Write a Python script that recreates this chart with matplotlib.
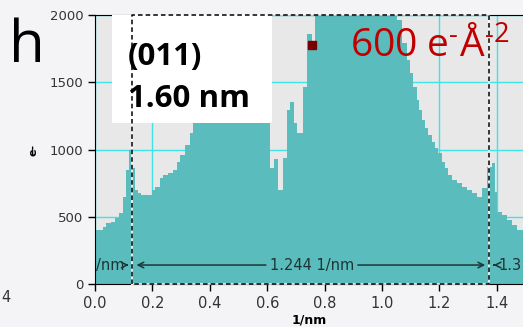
import matplotlib
matplotlib.use("Agg")
import matplotlib.pyplot as plt
from matplotlib.patches import Rectangle

plt.rcParams["mathtext.fontset"] = "custom"
plt.rcParams["mathtext.rm"] = "Open Sans"
plt.rcParams["mathtext.default"] = "regular"

# ── Data ─────────────────────────────────────────────────────────────────────
# intensity profile (left bin edges + counts), last edge closes the range
bin_edges = [0.000, 0.029, 0.040, 0.055, 0.070, 0.085, 0.099, 0.108, 0.118, 0.128,
             0.140, 0.150, 0.160, 0.198, 0.210, 0.226, 0.238, 0.255, 0.273, 0.285,
             0.296, 0.314, 0.331, 0.343, 0.355, 0.370, 0.385, 0.400, 0.420, 0.440,
             0.460, 0.480, 0.500, 0.520, 0.540, 0.560, 0.580, 0.595, 0.610, 0.625,
             0.636, 0.654, 0.669, 0.681, 0.694, 0.704, 0.724, 0.739, 0.756, 0.768,
             1.051, 1.068, 1.086, 1.098, 1.107, 1.121, 1.130, 1.138, 1.150, 1.161,
             1.173, 1.184, 1.196, 1.208, 1.219, 1.231, 1.243, 1.260, 1.277, 1.295,
             1.313, 1.330, 1.347, 1.365, 1.382, 1.393, 1.402, 1.417, 1.434, 1.452,
             1.469, 1.491]
counts = [400, 424, 453, 461, 490, 528, 647, 848, 996, 862,
          699, 676, 662, 699, 721, 788, 810, 825, 848, 907,
          959, 1033, 1123, 1197, 1250, 1300, 1340, 1380, 1410, 1430,
          1440, 1440, 1430, 1410, 1390, 1360, 1330, 1290, 860, 929,
          699, 936, 1294, 1356, 1195, 1120, 1467, 1859, 1770, 2150,
          1963, 1792, 1665, 1569, 1467, 1368, 1294, 1219, 1158, 1108,
          1058, 1009, 972, 909, 860, 810, 773, 749, 723, 699,
          674, 649, 711, 872, 897, 686, 537, 513, 476, 439,
          401]

x_ticks = [0.0, 0.2, 0.4, 0.6, 0.8, 1.0, 1.2, 1.4]
y_ticks = [0, 500, 1000, 1500, 2000]

# measurement window (1/nm) and its label
meas_left, meas_right = 0.130, 1.374
meas_label = "1.244 1/nm"
marker_pt = (0.756, 1777)

TEAL = "#5abcbc"
CYAN = "#3fe3e3"
INK = "#1d3535"

fig = plt.figure(figsize=(5.23, 3.27), dpi=100, facecolor="#f4f4f6")
ax = fig.add_axes([0.1816, 0.1315, 0.8184, 0.8226], facecolor="#e8e8e8")

ax.stairs(counts, bin_edges, fill=True, color=TEAL, zorder=2)

ax.set_xlim(0, 1.491)
ax.set_ylim(0, 2000)
ax.set_xticks(x_ticks)
ax.set_xticklabels([f"{v:.1f}" for v in x_ticks])
ax.set_yticks(y_ticks)
ax.set_axisbelow(True)
ax.grid(True, color=CYAN, lw=1.0)
ax.tick_params(axis="x", length=5, width=1, labelsize=10.5, labelcolor="#333333")
ax.tick_params(axis="y", length=5, width=1, labelsize=9.5, labelcolor="#333333")
ax.spines["right"].set_visible(False)
ax.spines["top"].set_linewidth(0.8)
ax.set_xlabel("1/nm", fontsize=9, fontweight="bold", labelpad=2)
ax.set_ylabel("e-", fontsize=8, fontweight="bold", labelpad=8)

# dashed measurement box (white under black dashes)
for ls, col in [("-", "white"), ((0, (3, 2)), "black")]:
    ax.plot([meas_left, meas_left, meas_right, meas_right, meas_left],
            [0, 2000, 2000, 0, 0], ls=ls, color=col, lw=1.1, zorder=4,
            clip_on=False)

# measurement arrows along the bottom
ya = 141
ax.text(0.003, ya, "/nm", color=INK, fontsize=10.5, va="center", ha="left", zorder=5)
ax.annotate("", xy=(meas_left - 0.003, ya), xytext=(0.098, ya),
            arrowprops=dict(arrowstyle="->", color=INK, lw=1.1), zorder=5)
ax.annotate("", xy=(meas_left + 0.005, ya), xytext=(0.605, ya),
            arrowprops=dict(arrowstyle="->", color=INK, lw=1.1), zorder=5)
ax.text(0.756, ya, meas_label, color=INK, fontsize=10.5, va="center", ha="center",
        zorder=5)
ax.annotate("", xy=(meas_right - 0.005, ya), xytext=(0.906, ya),
            arrowprops=dict(arrowstyle="->", color=INK, lw=1.1), zorder=5)
ax.annotate("", xy=(meas_right + 0.005, ya), xytext=(1.40, ya),
            arrowprops=dict(arrowstyle="->", color=INK, lw=1.1), zorder=5)
ax.text(1.405, ya, "1.3", color=INK, fontsize=10.5, va="center", ha="left", zorder=5,
        clip_on=True)

# white label box
ax.add_patch(Rectangle((0.059, 1197), 0.558, 900, facecolor="white",
                       edgecolor="none", zorder=3))
ax.text(0.115, 1628, "(011)", fontsize=22.5, fontweight="bold", family="Open Sans",
        va="baseline", zorder=6)
ax.text(0.115, 1316, "1.60 nm", fontsize=22.5, fontweight="bold", family="Open Sans",
        va="baseline", zorder=6)

ax.plot(*marker_pt, marker="s", ms=6, color="#7a0000", zorder=6)
ax.text(0.888, 1680, "600 e$^{\u2010}$Å$^{\u20102}$", fontsize=28, color="#c00000",
        family="Open Sans", va="baseline", zorder=6)

fig.text(0.052, 1 - 62 / 327, "h", fontsize=42, family="Open Sans", ha="center",
         va="baseline")
fig.text(0.002, 1 - 297 / 327, "4", fontsize=10.5, color="#333333", ha="left",
         va="center")

fig.savefig("out.png", dpi=100, facecolor=fig.get_facecolor())
